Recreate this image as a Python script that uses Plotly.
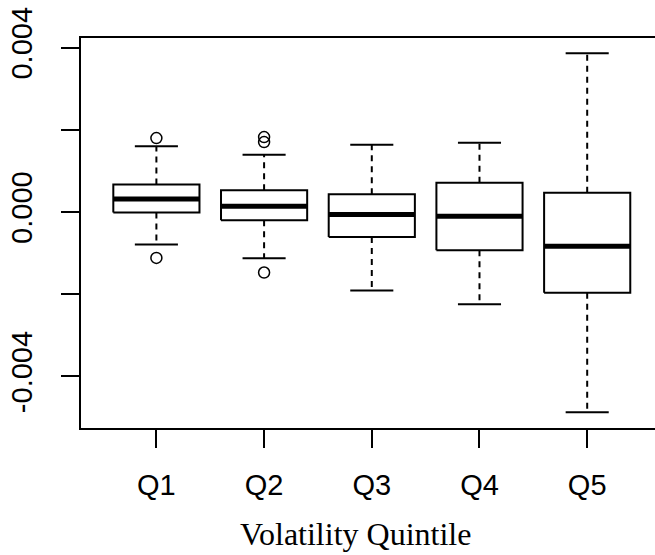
import plotly.graph_objects as go

categories = ["Q1", "Q2", "Q3", "Q4", "Q5"]
lower_whisker = [-0.792e-3, -1.125e-3, -1.910e-3, -2.243e-3, -4.875e-3]
q1_vals = [-0.015e-3, -0.202e-3, -0.608e-3, -0.931e-3, -1.968e-3]
median_vals = [0.316e-3, 0.139e-3, -0.063e-3, -0.104e-3, -0.834e-3]
q3_vals = [0.666e-3, 0.527e-3, 0.430e-3, 0.714e-3, 0.470e-3]
upper_whisker = [1.597e-3, 1.395e-3, 1.638e-3, 1.687e-3, 3.864e-3]
outliers = [[1.798e-3, -1.118e-3], [1.823e-3, 1.701e-3, -1.473e-3], [], [], []]

ytick_vals = [-0.004, -0.002, 0.0, 0.002, 0.004]
ytick_text = ["-0.004", "", "0.000", "", "0.004"]

BOX_HALF = 0.4
STAPLE_HALF = 0.2

fig = go.Figure()
common = dict(mode="lines", showlegend=False, hoverinfo="skip")
for i, cat in enumerate(categories):
    x = i + 1
    fig.add_trace(go.Scatter(
        x=[x, x, None, x, x],
        y=[q3_vals[i], upper_whisker[i], None, q1_vals[i], lower_whisker[i]],
        line=dict(color="black", width=2, dash="6px,5px"), **common))
    fig.add_trace(go.Scatter(
        x=[x - STAPLE_HALF, x + STAPLE_HALF, None, x - STAPLE_HALF, x + STAPLE_HALF],
        y=[upper_whisker[i], upper_whisker[i], None, lower_whisker[i], lower_whisker[i]],
        line=dict(color="black", width=2), **common))
    fig.add_trace(go.Scatter(
        x=[x - BOX_HALF, x + BOX_HALF, x + BOX_HALF, x - BOX_HALF, x - BOX_HALF],
        y=[q1_vals[i], q1_vals[i], q3_vals[i], q3_vals[i], q1_vals[i]],
        fill="toself", fillcolor="white",
        line=dict(color="black", width=2), **common))
    fig.add_trace(go.Scatter(
        x=[x - BOX_HALF, x + BOX_HALF],
        y=[median_vals[i], median_vals[i]],
        line=dict(color="black", width=5), **common))
    if outliers[i]:
        fig.add_trace(go.Scatter(
            x=[x] * len(outliers[i]), y=outliers[i], mode="markers",
            marker=dict(symbol="circle-open", size=11, color="black",
                        line=dict(width=1.5, color="black")),
            showlegend=False, hoverinfo="skip"))

fig.update_layout(
    width=655, height=555,
    margin=dict(l=81, r=0, t=38, b=127, autoexpand=False),
    paper_bgcolor="white", plot_bgcolor="white",
    font=dict(family="Liberation Sans, Arial, sans-serif", size=29, color="black"),
    xaxis=dict(
        range=[0.3, 0.3 + 574 / 107.7],
        tickvals=list(range(1, len(categories) + 1)), ticktext=categories,
        ticks="outside", ticklen=18, tickwidth=2, tickcolor="black",
        showline=True, linewidth=2, linecolor="black", mirror=True,
        showgrid=False, zeroline=False, automargin=False,
        ticklabelstandoff=12,
        tickfont=dict(size=29, color="black"),
    ),
    yaxis=dict(
        range=[-5.256e-3, 4.233e-3],
        tickvals=ytick_vals, ticktext=ytick_text, tickangle=-90,
        ticks="outside", ticklen=18, tickwidth=2, tickcolor="black",
        showline=True, linewidth=2, linecolor="black", mirror=False,
        showgrid=False, zeroline=False, automargin=False,
        ticklabelstandoff=17,
        tickfont=dict(size=29, color="black"),
    ),
    annotations=[dict(
        text="Volatility Quintile", xref="paper", yref="paper",
        x=(355.5 - 81) / 574, y=(428 - 534) / 390,
        xanchor="center", yanchor="middle", showarrow=False,
        font=dict(family="Liberation Serif, Times New Roman, serif", size=32, color="black"),
    )],
)

fig.write_html(
    "out.html",
    config={"displayModeBar": False, "staticPlot": True},
    post_script="document.body.style.margin='0';document.body.style.overflow='hidden';",
)
